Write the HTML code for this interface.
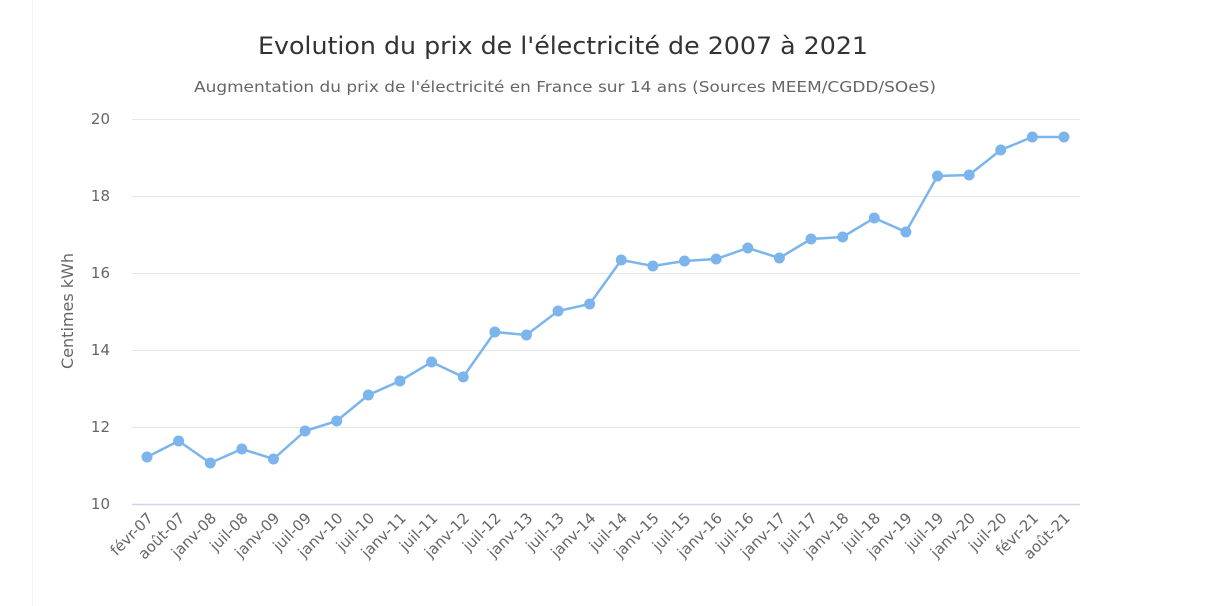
<!DOCTYPE html>
<html><head><meta charset="utf-8"><style>body{margin:0;background:#fff}svg{display:block}text{font-family:"DejaVu Sans","Liberation Sans",sans-serif}</style></head><body>
<svg width="1230" height="606" xmlns="http://www.w3.org/2000/svg">
<line x1="32.5" y1="0" x2="32.5" y2="606" stroke="#f4f4f4"/>
<text x="563" y="54" text-anchor="middle" font-size="24" fill="#333" textLength="610" lengthAdjust="spacingAndGlyphs">Evolution du prix de l'électricité de 2007 à 2021</text>
<text x="565" y="92" text-anchor="middle" font-size="15" fill="#666" textLength="742" lengthAdjust="spacingAndGlyphs">Augmentation du prix de l'électricité en France sur 14 ans (Sources MEEM/CGDD/SOeS)</text>
<g stroke="#e6e6e6" stroke-width="1">
<line x1="132" y1="119.5" x2="1080" y2="119.5"/><line x1="132" y1="196.5" x2="1080" y2="196.5"/><line x1="132" y1="273.5" x2="1080" y2="273.5"/><line x1="132" y1="350.5" x2="1080" y2="350.5"/><line x1="132" y1="427.5" x2="1080" y2="427.5"/></g>
<line x1="132" y1="504.5" x2="1080" y2="504.5" stroke="#ccd6eb" stroke-width="1.5"/>
<g font-size="15" fill="#666" text-anchor="end">
<text x="110" y="124">20</text><text x="110" y="201">18</text><text x="110" y="278">16</text><text x="110" y="355">14</text><text x="110" y="432">12</text><text x="110" y="509">10</text></g>
<text transform="translate(73,311) rotate(-90)" text-anchor="middle" font-size="16" fill="#666">Centimes kWh</text>
<g id="lbl" font-size="15" fill="#666" text-anchor="end"></g>
<polyline id="ln" fill="none" stroke="#7cb5ec" stroke-width="2.5"/>
<g id="pts" fill="#7cb5ec"></g>
</svg>
<script>
var labels=["févr-07","août-07","janv-08","juil-08","janv-09","juil-09","janv-10","juil-10","janv-11","juil-11","janv-12","juil-12","janv-13","juil-13","janv-14","juil-14","janv-15","juil-15","janv-16","juil-16","janv-17","juil-17","janv-18","juil-18","janv-19","juil-19","janv-20","juil-20","févr-21","août-21"];
var ys=[457,441,463,449,459,431,421,395,381,362,377,332,335,311,304,260,266,261,259,248,258,239,237,218,232,176,175,150,137,137];
var ns="http://www.w3.org/2000/svg",pts=[],g=document.getElementById("pts"),L=document.getElementById("lbl");
for(var i=0;i<30;i++){var x=147+i*31.62;pts.push(x+","+ys[i]);
var c=document.createElementNS(ns,"circle");c.setAttribute("cx",x);c.setAttribute("cy",ys[i]);c.setAttribute("r",5.5);g.appendChild(c);
var t=document.createElementNS(ns,"text");t.setAttribute("transform","translate("+(x+7)+",519) rotate(-45)");t.textContent=labels[i];L.appendChild(t);}
document.getElementById("ln").setAttribute("points",pts.join(" "));
</script>
</body></html>
